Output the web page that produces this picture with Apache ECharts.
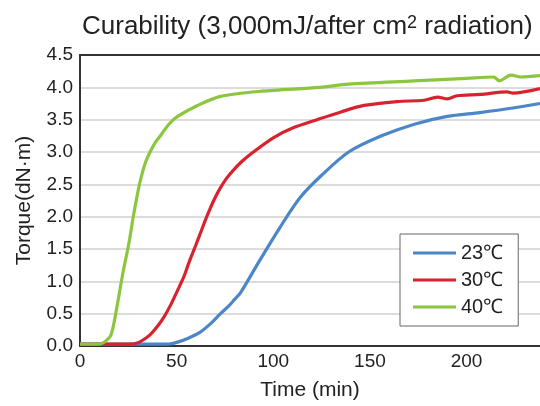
<!DOCTYPE html>
<html><head><meta charset="utf-8">
<script src="https://cdn.jsdelivr.net/npm/echarts@6/dist/echarts.min.js"></script>
<style>html,body{margin:0;padding:0;background:#fff}#c{width:540px;height:406px}</style>
</head><body><div id="c"></div>
<script>
var seriesNames = ['23℃', '30℃', '40℃'];
var t23 = [0, 46, 50.5, 56, 62, 67, 72.7, 77, 80, 83, 93.3, 103.6, 114, 125, 139, 156, 173, 190, 207, 224, 238];
var v23 = [0.03, 0.03, 0.06, 0.12, 0.21, 0.33, 0.5, 0.62, 0.72, 0.82, 1.34, 1.84, 2.3, 2.64, 3.0, 3.25, 3.43, 3.55, 3.61, 3.68, 3.75];
var t30 = [0, 26, 30, 33, 36.5, 40, 43.5, 47, 50, 53.6, 56.5, 59.8, 63, 66, 69.5, 72.7, 76, 79.4, 84, 89.7, 100, 110, 122.7, 135, 147, 164, 178, 185, 190, 195, 207, 221, 224, 238];
var v30 = [0.03, 0.03, 0.05, 0.1, 0.18, 0.3, 0.45, 0.64, 0.83, 1.06, 1.3, 1.55, 1.8, 2.03, 2.27, 2.45, 2.6, 2.72, 2.86, 3.0, 3.22, 3.37, 3.5, 3.62, 3.72, 3.78, 3.8, 3.85, 3.82, 3.87, 3.89, 3.93, 3.91, 3.98];
var t40 = [0, 10, 13, 16, 18.6, 22.2, 25.3, 27.8, 30.4, 32, 34, 36.6, 39, 41.8, 46, 50.5, 60.8, 72.7, 94, 124, 139, 173, 200, 214, 217, 223, 228, 238];
var v40 = [0.03, 0.03, 0.07, 0.17, 0.52, 1.13, 1.59, 2.04, 2.45, 2.65, 2.85, 3.02, 3.15, 3.26, 3.43, 3.55, 3.72, 3.86, 3.94, 4.0, 4.05, 4.1, 4.14, 4.16, 4.1, 4.19, 4.16, 4.18];
var colors = ['#4a86c8', '#d8232f', '#8cc63f'];

function zip(t, v) { return t.map(function (x, i) { return [x, v[i]]; }); }
var font = 'Liberation Sans, Arial, sans-serif';
var chart = echarts.init(document.getElementById('c'));
var data = [zip(t23, v23), zip(t30, v30), zip(t40, v40)];
chart.setOption({
  animation: false,
  title: {
    text: 'Curability (3,000mJ/after cm{s|2} radiation)',
    left: 77, top: 9,
    textStyle: { fontFamily: font, fontSize: 26, fontWeight: 'normal', color: '#222',
      rich: { s: { fontFamily: font, fontSize: 18, verticalAlign: 'top', padding: [0, 0, 8, 0], color: '#222' } } }
  },
  legend: {
    orient: 'vertical', left: 400, top: 234,
    padding: [9, 15, 9, 13], itemGap: 7,
    backgroundColor: '#fff', borderColor: '#666', borderWidth: 1,
    icon: 'rect', itemWidth: 43, itemHeight: 3,
    textStyle: { fontFamily: font, fontSize: 20, color: '#222' },
    data: seriesNames
  },
  grid: { left: 80, top: 55, right: 0, bottom: 56 },
  xAxis: [{
    type: 'value', min: 0, max: 238, interval: 50,
    name: 'Time (min)', nameLocation: 'middle', nameGap: 34,
    nameTextStyle: { fontFamily: font, fontSize: 21, color: '#222' },
    axisLine: { show: true, lineStyle: { color: '#333', width: 2 } },
    axisTick: { show: false },
    axisLabel: { fontFamily: font, fontSize: 19, color: '#222', margin: 6, showMaxLabel: false },
    splitLine: { show: false }
  }, {
    type: 'value', min: 0, max: 238, position: 'top',
    axisLine: { show: true, onZero: false, lineStyle: { color: '#333', width: 2 } },
    axisTick: { show: false }, axisLabel: { show: false }, splitLine: { show: false }
  }],
  yAxis: {
    type: 'value', min: 0, max: 4.5, interval: 0.5,
    name: 'Torque(dN·m)', nameLocation: 'middle', nameGap: 45,
    nameTextStyle: { fontFamily: font, fontSize: 21, color: '#222' },
    axisLine: { show: true, lineStyle: { color: '#333', width: 2 } },
    axisTick: { show: false },
    axisLabel: { fontFamily: font, fontSize: 19, color: '#222', margin: 7,
      formatter: function (v) { return v.toFixed(1); } },
    splitLine: { show: true, lineStyle: { color: '#d0d0d0', width: 1.5 } }
  },
  series: seriesNames.map(function (n, i) {
    return {
      name: n, type: 'line', xAxisIndex: 0, data: data[i], smooth: 0.3,
      showSymbol: false, symbol: 'none', color: colors[i],
      lineStyle: { width: 3.2, color: colors[i] }
    };
  })
});
</script></body></html>
